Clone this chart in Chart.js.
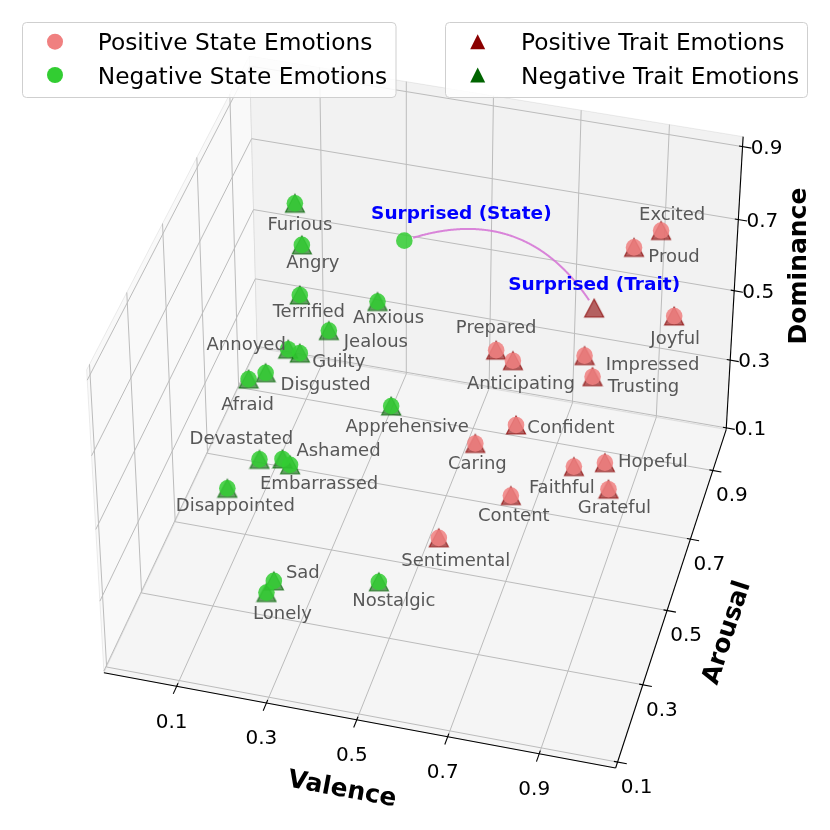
<!DOCTYPE html>
<html><head><meta charset="utf-8">
<script src="https://cdn.jsdelivr.net/npm/chart.js@4.4.0/dist/chart.umd.min.js"></script>
<style>html,body{margin:0;padding:0;background:#fff}canvas{display:block}</style>
</head><body><canvas id="c" width="830" height="830"></canvas>
<script>
// ---------------- data ----------------
const tickValues = [0.1, 0.3, 0.5, 0.7, 0.9];
const tickLabels = ['0.1', '0.3', '0.5', '0.7', '0.9'];
const valenceLim = [-0.063, 1.066];
const arousalLim = [0.085, 1.023];
const dominanceLim = [0.095, 0.927];

const negNames = ['Furious','Angry','Terrified','Anxious','Jealous','Annoyed','Guilty','Disgusted','Afraid','Apprehensive','Devastated','Ashamed','Embarrassed','Disappointed','Sad','Lonely','Nostalgic'];
const negValence   = [0.082,0.115,0.108,0.307,0.247,0.153,0.198,0.138,0.040,0.405,0.138,0.172,0.208,0.122,0.260,0.262,0.477];
const negArousal   = [0.90,0.85,0.85,0.80,0.65,0.65,0.60,0.55,0.70,0.60,0.50,0.55,0.50,0.35,0.25,0.20,0.30];
const negDominance = [0.656,0.591,0.448,0.517,0.563,0.491,0.537,0.517,0.334,0.433,0.321,0.280,0.321,0.386,0.258,0.278,0.253];

const posNames = ['Excited','Proud','Joyful','Prepared','Anticipating','Impressed','Trusting','Confident','Caring','Faithful','Hopeful','Grateful','Content','Sentimental'];
const posValence   = [0.909,0.886,0.982,0.655,0.649,0.836,0.868,0.745,0.657,0.886,0.927,0.962,0.780,0.594];
const posArousal   = [0.95,0.80,0.80,0.55,0.70,0.60,0.55,0.40,0.40,0.35,0.45,0.35,0.25,0.35];
const posDominance = [0.703,0.787,0.618,0.690,0.517,0.666,0.663,0.650,0.580,0.617,0.537,0.572,0.615,0.353];

const surprisedStateVAD = [0.336, 0.90, 0.603];
const surprisedTraitVAD = [0.776, 0.90, 0.504];

// ---------------- layout (label offsets in px) ----------------
const negLabelOffsets = [[5,20],[11,17],[9,16],[11,15],[47,10],[-42,-6],[39,7],[60,11],[-1,24],[16,19],[-18,-22],[56,-9],[29,18],[8,16],[29,-9],[16,20],[15,18]];
const posLabelOffsets = [[11,-17],[40,8],[1,21],[0,-24],[8,22],[68,8],[51,9],[55,2],[2,19],[-12,20],[48,-2],[6,17],[3,19],[17,22]];

// ---------------- view (camera fitted to the axes box) ----------------
const [v0,v1]=valenceLim,[a0,a1]=arousalLim,[d0,d1]=dominanceLim;
const viewAnchors = [
 [0.1,a0,d0,176.7,686.3],[0.3,a0,d0,265.7,702.9],[0.5,a0,d0,355.7,719.6],[0.7,a0,d0,447,737],[0.9,a0,d0,539,754],
 [v1,0.1,d0,618,762],[v1,0.3,d0,643.3,684],[v1,0.5,d0,667.2,610.7],[v1,0.7,d0,690.7,538.3],[v1,0.9,d0,713,470],
 [v1,a1,0.1,726,428.3],[v1,a1,0.3,730,360],[v1,a1,0.5,734,290.7],[v1,a1,0.7,738.2,220],[v1,a1,0.9,742.4,146.7],
 [v0,0.1,d1,90,365],[v0,0.3,d1,126.7,292.3],[v0,0.5,d1,162.3,223.3],[v0,0.7,d1,196.7,157.3],[v0,0.9,d1,230,93.3],
 [v0,a0,d0,105,673],[v1,a0,d0,616,768],[v1,a1,d0,726.5,430.5],[v1,a1,d1,743.3,136.7]
];
function solveLinear(M,b){const n=b.length;M=M.map((r,i)=>r.concat([b[i]]));
 for(let c=0;c<n;c++){let p=c;for(let r=c+1;r<n;r++)if(Math.abs(M[r][c])>Math.abs(M[p][c]))p=r;[M[c],M[p]]=[M[p],M[c]];
  for(let r=0;r<n;r++){if(r===c)continue;const f=M[r][c]/M[c][c];for(let k=c;k<=n;k++)M[r][k]-=f*M[c][k];}}
 return M.map((r,i)=>r[n]/r[i]);}
const cam=(function(){const N=Array.from({length:11},()=>Array(11).fill(0)),rhs=Array(11).fill(0);
 viewAnchors.forEach(([X,Y,Z,x,y])=>{[[[X,Y,Z,1,0,0,0,0,-x*X,-x*Y,-x*Z],x],[[0,0,0,0,X,Y,Z,1,-y*X,-y*Y,-y*Z],y]].forEach(([r,b])=>{
  for(let j=0;j<11;j++){rhs[j]+=r[j]*b;for(let k=0;k<11;k++)N[j][k]+=r[j]*r[k];}});});
 return solveLinear(N,rhs);})();
function project(v,a,d){const p=cam,w=p[8]*v+p[9]*a+p[10]*d+1;return[(p[0]*v+p[1]*a+p[2]*d+p[3])/w,(p[4]*v+p[5]*a+p[6]*d+p[7])/w];}
const toPts=(V,A,D)=>V.map((v,i)=>{const q=project(v,A[i],D[i]);return{x:q[0],y:q[1]};});

// ---------------- styles ----------------
const FONT="'DejaVu Sans', 'Liberation Sans', sans-serif";
const posStateColor='rgba(240,128,128,0.85)', negStateColor='rgba(50,205,50,0.85)';
function triImg(fill,stroke,h,hw){const c=document.createElement('canvas');c.width=c.height=2*h+4;const g=c.getContext('2d');const m=h+2;
 g.beginPath();g.moveTo(m,m-h);g.lineTo(m+hw,m+h);g.lineTo(m-hw,m+h);g.closePath();g.fillStyle=fill;g.fill();
 if(stroke){g.lineWidth=1.2;g.strokeStyle=stroke;g.stroke();}return c;}
const posTri=triImg('rgba(139,0,0,0.6)','rgba(139,0,0,0.75)',9,9.5);
const negTri=triImg('rgba(0,100,0,0.6)','rgba(0,100,0,0.75)',9,9.5);

// ---------------- plugin: 3D box, grid, axes, labels, legends ----------------
const axes3d={id:'axes3d',
 beforeDatasetsDraw(chart){const g=chart.ctx,xs=chart.scales.x,ys=chart.scales.y;
  const P=(v,a,d)=>{const q=project(v,a,d);return[xs.getPixelForValue(q[0]),ys.getPixelForValue(q[1])];};
  const poly=(pts,fill)=>{g.beginPath();pts.forEach((p,i)=>i?g.lineTo(p[0],p[1]):g.moveTo(p[0],p[1]));g.closePath();g.fillStyle=fill;g.fill();g.strokeStyle='rgba(0,0,0,0.07)';g.lineWidth=1;g.stroke();};
  const line=(p,q,col,w)=>{g.beginPath();g.moveTo(p[0],p[1]);g.lineTo(q[0],q[1]);g.strokeStyle=col;g.lineWidth=w;g.stroke();};
  g.save();
  poly([P(v0,a0,d0),P(v0,a1,d0),P(v0,a1,d1),P(v0,a0,d1)],'rgb(249,249,249)');
  poly([P(v0,a1,d0),P(v1,a1,d0),P(v1,a1,d1),P(v0,a1,d1)],'rgb(242,242,242)');
  poly([P(v0,a0,d0),P(v1,a0,d0),P(v1,a1,d0),P(v0,a1,d0)],'rgb(245,245,245)');
  const gc='#bcbcbc',gw=1;
  tickValues.forEach(t=>{
   line(P(t,a0,d0),P(t,a1,d0),gc,gw); line(P(v0,t,d0),P(v1,t,d0),gc,gw);
   line(P(t,a1,d0),P(t,a1,d1),gc,gw); line(P(v0,a1,t),P(v1,a1,t),gc,gw);
   line(P(v0,t,d0),P(v0,t,d1),gc,gw); line(P(v0,a0,t),P(v0,a1,t),gc,gw);
  });
  line(P(v0,a0,d0),P(v1,a0,d0),'#000',1.1);
  line(P(v1,a0,d0),P(v1,a1,d0),'#000',1.1);
  line(P(v1,a1,d0),P(v1,a1,d1),'#000',1.1);
  const tin=0.008,tout=0.02;
  g.fillStyle='#000';g.font='20px '+FONT;g.textAlign='center';g.textBaseline='alphabetic';
  tickValues.forEach((t,i)=>{
   let p=P(t,a0,d0); line(P(t,a0+tin,d0),P(t,a0-tout,d0),'#000',1.1); g.fillText(tickLabels[i],p[0]-5,p[1]+34+7.3);
   p=P(v1,t,d0); line(P(v1-tin,t,d0),P(v1+tout,t,d0),'#000',1.1); g.fillText(tickLabels[i],p[0]+19,p[1]+23.5+7.3);
   p=P(v1,a1,t); line(P(v1-tin,a1,t),P(v1+tout,a1,t),'#000',1.1); g.fillText(tickLabels[i],p[0]+24,p[1]+7.3);
  });
  // axis titles
  const title=(txt,x,y,ang)=>{g.save();g.translate(x,y);g.rotate(ang);g.font='bold 25px '+FONT;g.fillStyle='#000';g.textAlign='center';g.fillText(txt,0,9);g.restore();};
  let e1=P(0.1,a0,d0),e2=P(0.9,a0,d0); title('Valence',342.5,787.5,Math.atan2(e2[1]-e1[1],e2[0]-e1[0]));
  e1=P(v1,0.1,d0);e2=P(v1,0.9,d0); title('Arousal',725,632,Math.atan2(e2[1]-e1[1],e2[0]-e1[0]));
  title('Dominance',797,266,-Math.PI/2);
  // connector between the two "Surprised" points
  const s=P(...surprisedStateVAD),e=P(...surprisedTraitVAD);const dx=e[0]-s[0],dy=e[1]-s[1],rad=0.4;
  const c=[(s[0]+e[0])/2+rad*dy,(s[1]+e[1])/2-rad*dx];
  g.beginPath();let started=false;
  for(let k=0;k<=300;k++){const t=k/300,u=1-t;const x=u*u*s[0]+2*t*u*c[0]+t*t*e[0],y=u*u*s[1]+2*t*u*c[1]+t*t*e[1];
   if(Math.hypot(x-s[0],y-s[1])<9||Math.hypot(x-e[0],y-e[1])<8.5)continue;
   if(!started){g.moveTo(x,y);started=true;}else g.lineTo(x,y);}
  g.strokeStyle='rgba(214,120,214,0.9)';g.lineWidth=2;g.stroke();
  g.restore();
 },
 afterDatasetsDraw(chart){const g=chart.ctx,xs=chart.scales.x,ys=chart.scales.y;
  const P=(v,a,d)=>{const q=project(v,a,d);return[xs.getPixelForValue(q[0]),ys.getPixelForValue(q[1])];};
  g.save();g.textAlign='center';g.textBaseline='alphabetic';
  g.font='18px '+FONT;g.fillStyle='#575757';
  negNames.forEach((n,i)=>{const p=P(negValence[i],negArousal[i],negDominance[i]);g.fillText(n,p[0]+negLabelOffsets[i][0],p[1]+negLabelOffsets[i][1]+6.5);});
  posNames.forEach((n,i)=>{const p=P(posValence[i],posArousal[i],posDominance[i]);g.fillText(n,p[0]+posLabelOffsets[i][0],p[1]+posLabelOffsets[i][1]+6.5);});
  g.font='bold 18.5px '+FONT;g.fillStyle='#0000ff';
  let p=P(...surprisedStateVAD);g.fillText('Surprised (State)',p[0]+57,p[1]-28.7+6.7);
  p=P(...surprisedTraitVAD);g.fillText('Surprised (Trait)',p[0],p[1]-25.3+6.7);
  // legends
  const box=(x,y,w,h)=>{g.beginPath();const r=4;g.moveTo(x+r,y);g.lineTo(x+w-r,y);g.arcTo(x+w,y,x+w,y+r,r);g.lineTo(x+w,y+h-r);g.arcTo(x+w,y+h,x+w-r,y+h,r);
   g.lineTo(x+r,y+h);g.arcTo(x,y+h,x,y+h-r,r);g.lineTo(x,y+r);g.arcTo(x,y,x+r,y,r);g.closePath();g.fillStyle='rgba(255,255,255,0.85)';g.fill();g.strokeStyle='#cfcfcf';g.lineWidth=1;g.stroke();};
  box(22.5,22.5,373.5,75);box(445.5,22.5,362,75);
  g.textAlign='left';g.font='23.3px '+FONT;
  const rows=[[41.7,'Positive State Emotions','Positive Trait Emotions','#f08080','#8b0000'],[75,'Negative State Emotions','Negative Trait Emotions','#32cd32','#006400']];
  rows.forEach(([y,t1,t2,c1,c2])=>{
   g.beginPath();g.arc(55,y,8,0,Math.PI*2);g.fillStyle=c1;g.fill();
   g.beginPath();g.moveTo(477.7,y-7.5);g.lineTo(485.2,y+7.5);g.lineTo(470.2,y+7.5);g.closePath();g.fillStyle=c2;g.fill();
   g.fillStyle='#000';g.fillText(t1,97.7,y+8.5);g.fillText(t2,521,y+8.5);
  });
  g.restore();
 }};

// ---------------- chart ----------------
new Chart(document.getElementById('c'),{type:'scatter',
 data:{datasets:[
  {label:'Negative State Emotions',data:toPts(negValence,negArousal,negDominance),pointStyle:'circle',pointRadius:8.3,backgroundColor:negStateColor,borderWidth:0,order:1},
  {label:'Positive State Emotions',data:toPts(posValence,posArousal,posDominance),pointStyle:'circle',pointRadius:8.3,backgroundColor:posStateColor,borderWidth:0,order:1},
  {label:'Surprised (State)',data:toPts([surprisedStateVAD[0]],[surprisedStateVAD[1]],[surprisedStateVAD[2]]),pointStyle:'circle',pointRadius:8.3,backgroundColor:negStateColor,borderWidth:0,order:1},
  {label:'Negative Trait Emotions',data:toPts(negValence,negArousal,negDominance),pointStyle:negTri,order:2},
  {label:'Positive Trait Emotions',data:toPts(posValence,posArousal,posDominance),pointStyle:posTri,order:2},
  {label:'Surprised (Trait)',data:toPts([surprisedTraitVAD[0]],[surprisedTraitVAD[1]],[surprisedTraitVAD[2]]),pointStyle:posTri,order:2}
 ]},
 options:{responsive:false,animation:false,events:[],layout:{padding:0,autoPadding:false},
  plugins:{legend:{display:false},tooltip:{enabled:false}},
  scales:{x:{type:'linear',min:0,max:830,display:false},y:{type:'linear',min:0,max:830,reverse:true,display:false}}},
 plugins:[axes3d]});
</script></body></html>
